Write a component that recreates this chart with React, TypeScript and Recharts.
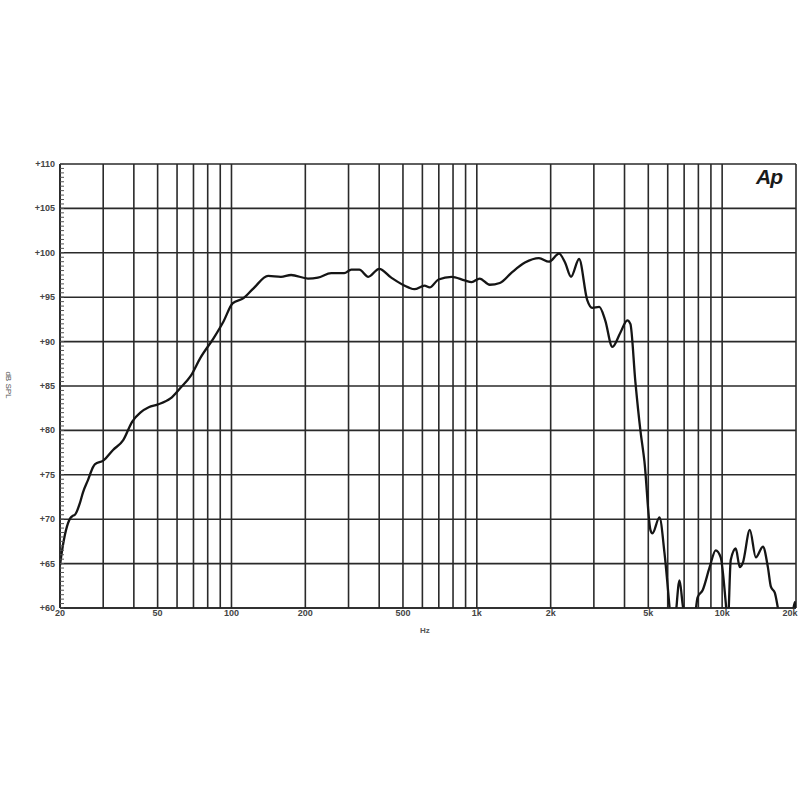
import React from "react";
import { LineChart, Line, XAxis, YAxis, CartesianGrid } from "recharts";

const freqs: number[] = [
  20, 20.4, 22, 22.6, 23, 24.1, 24.8, 26, 27.3, 27.8, 30, 32.9, 36.2, 39.4, 42.5, 46, 49.9, 56.4, 62, 68.1,
  74.8, 84.6, 92.9, 101, 112, 123, 141, 159, 175, 205, 225, 255, 288, 308, 332, 361, 400, 448, 526, 557,
  612, 642, 698, 789, 892, 953, 1027, 1129, 1241, 1390, 1571, 1792, 1969, 2164, 2289, 2421, 2612, 2817, 2953, 3155,
  3337, 3569, 3846, 4106, 4226, 4428, 4643, 4822, 5101, 5198, 5552, 5820, 6101, 6280, 6459, 6703, 6896, 7094, 7430, 7720,
  7943, 8326, 8893, 9414, 9864, 10343, 10540, 10840, 11363, 11800, 12144, 12970, 13720, 14660, 15360, 15800, 16400, 16880, 17700, 18800,
  19400, 19820, 20000,
];

const spl: number[] = [
  64.8, 66.5, 70.1, 70.4, 70.5, 71.8, 73.0, 74.4, 75.9, 76.2, 76.6, 77.8, 78.9, 81.0, 82.0, 82.6, 82.9, 83.6, 84.8, 86.1,
  88.2, 90.4, 92.3, 94.3, 94.9, 96.0, 97.4, 97.3, 97.5, 97.1, 97.2, 97.7, 97.7, 98.1, 98.1, 97.3, 98.2, 97.2, 96.1, 95.9,
  96.3, 96.1, 97.0, 97.3, 96.9, 96.7, 97.1, 96.4, 96.6, 97.8, 98.9, 99.4, 99.0, 99.9, 98.9, 97.3, 99.3, 94.7, 93.8, 93.9,
  92.4, 89.4, 91.0, 92.4, 92.0, 85.5, 80.0, 76.5, 68.8, 68.4, 70.2, 66.2, 60.1, 56.0, 59.0, 63.1, 60.5, 58.0, 55.0, 58.5,
  61.2, 62.0, 64.6, 66.5, 65.7, 60.6, 58.0, 65.4, 66.7, 64.6, 65.1, 68.8, 65.7, 66.9, 64.6, 62.4, 61.7, 60.0, 57.0, 57.0,
  59.5, 60.7, 59.0,
];

const xTicks: number[] = [
  20, 30, 40, 50, 60, 70, 80, 90, 100, 200, 300, 400, 500, 600, 700, 800, 900, 1000,
  2000, 3000, 4000, 5000, 6000, 7000, 8000, 9000, 10000, 20000,
];
const xLabels: Record<number, string> = {
  20: "20", 50: "50", 100: "100", 200: "200", 500: "500", 1000: "1k",
  2000: "2k", 5000: "5k", 10000: "10k", 20000: "20k",
};
const yTicks: number[] = [60, 65, 70, 75, 80, 85, 90, 95, 100, 105, 110];
const yMinorTicks: number[] = Array.from({ length: 101 }, (_, i) => 60 + i * 0.5);

const data = freqs.map((f, i) => ({ f, spl: spl[i] }));

const font = "'Liberation Sans', Arial, sans-serif";

const XTick = (props: any) => {
  const { x, y, payload } = props;
  const label = xLabels[payload.value];
  if (!label) return <g />;
  const cx = Math.min(x, 800 - 10);
  return (
    <text x={cx} y={y + 8} textAnchor="middle" fontSize={9} fontFamily={font} fontWeight="bold" fill="#444">
      {label}
    </text>
  );
};

const YTick = (props: any) => {
  const { x, y, payload } = props;
  const v: number = payload.value;
  const axisX = x + 4;
  const isMajor = yTicks.includes(v);
  return (
    <g>
      <line x1={axisX} x2={axisX + 4} y1={y} y2={y} stroke="#555" strokeWidth={1} />
      {isMajor ? (
        <text x={x - 1} y={y + 3} textAnchor="end" fontSize={9} fontFamily={font} fontWeight="bold" fill="#444">
          {`+${v}`}
        </text>
      ) : null}
    </g>
  );
};

export default function App() {
  return (
    <div style={{ position: "absolute", left: 0, top: 0, width: 800, height: 800, background: "#fff" }}>
      <LineChart width={800} height={800} data={data} margin={{ top: 164, right: 4, bottom: 162, left: 0 }}>
        <CartesianGrid stroke="#2a2a2a" strokeWidth={1.6} horizontalValues={yTicks} />
        <XAxis
          dataKey="f"
          type="number"
          scale="log"
          domain={[20, 20000]}
          ticks={xTicks}
          interval={0}
          allowDataOverflow
          height={30}
          tickLine={false}
          tickSize={0}
          tickMargin={0}
          axisLine={{ stroke: "#222", strokeWidth: 1.6 }}
          tick={<XTick />}
        />
        <YAxis
          type="number"
          domain={[60, 110]}
          ticks={yMinorTicks}
          interval={0}
          allowDataOverflow
          width={60}
          tickLine={false}
          tickSize={2}
          tickMargin={2}
          axisLine={{ stroke: "#222", strokeWidth: 1.6 }}
          tick={<YTick />}
        />
        <Line type="monotone" dataKey="spl" stroke="#151515" strokeWidth={2.3} dot={false} isAnimationActive={false} />
      </LineChart>
      <div
        style={{
          position: "absolute",
          left: -12,
          top: 380,
          width: 40,
          textAlign: "center",
          transform: "rotate(90deg)",
          fontSize: 8,
          fontFamily: font,
          color: "#555",
          lineHeight: "10px",
        }}
      >
        dB SPL
      </div>
      <div
        style={{ position: "absolute", left: 420, top: 626, fontSize: 8, fontFamily: font, fontWeight: "bold", color: "#555" }}
      >
        Hz
      </div>
      <div
        style={{
          position: "absolute",
          left: 756,
          top: 165,
          fontSize: 21,
          fontFamily: font,
          fontWeight: "bold",
          fontStyle: "italic",
          color: "#1a1a1a",
          letterSpacing: -1,
        }}
      >
        Ap
      </div>
    </div>
  );
}
